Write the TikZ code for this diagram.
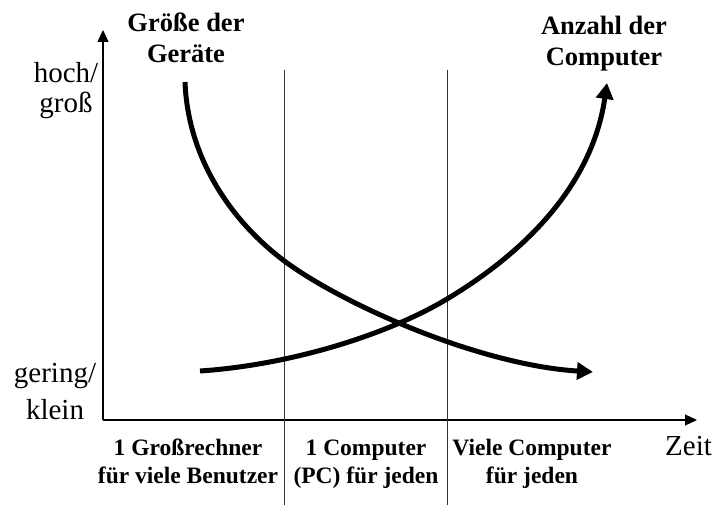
\documentclass[tikz,border=0pt]{standalone}
\usepackage{fontspec}
\setmainfont{Liberation Serif}
\usetikzlibrary{arrows.meta}
\begin{document}
\begin{tikzpicture}[x=1pt, y=-1pt,
  axis/.style={line width=1.2pt, -{Triangle[length=12pt, width=11pt]}},
  sep/.style={line width=0.9pt, black!80},
  curve/.style={line width=5pt, -{Triangle[length=16pt, width=17pt]}},
  big/.style={font=\fontsize{29}{30}\selectfont, inner sep=0pt, align=center},
  head/.style={font=\bfseries\fontsize{26.5}{31}\selectfont, inner sep=0pt, align=center},
  era/.style={font=\bfseries\fontsize{23.5}{28}\selectfont, inner sep=0pt, align=center}]
  \useasboundingbox (0,0) rectangle (717,505);
  % axes
  \coordinate (O) at (103,420);
  \coordinate (ytop) at (103,30);
  \coordinate (xend) at (697,420);
  \draw[axis] (O) -- (ytop);
  \draw[axis] (O) -- (xend);
  % era separators
  \coordinate (s1t) at (284,70); \coordinate (s1b) at (284,505);
  \coordinate (s2t) at (447,70); \coordinate (s2b) at (447,505);
  \draw[sep] (s1t) -- (s1b);
  \draw[sep] (s2t) -- (s2b);
  % curves
  \coordinate (size0) at (185,82);  \coordinate (size1) at (593,372);
  \coordinate (count0) at (200,371); \coordinate (count1) at (607,83);
  \draw[curve] (size0) .. controls (188,160) and (233,222) .. (283,260)
    .. controls (343,305) and (480,365) .. (size1);
  \draw[curve] (count0) .. controls (290,365) and (387,335) .. (447,299)
    .. controls (502,266) and (590,200) .. (count1);
  % labels
  \node[big, anchor=base] (high) at (66,113) {hoch/\\groß};
  \node[big, anchor=base, font=\fontsize{29}{37}\selectfont] (low) at (55,419) {gering/\\klein};
  \node[big, anchor=base west] (time) at (665,455) {Zeit};
  \node[head, anchor=base] (size) at (186,63) {Größe der\\Geräte};
  \node[head, anchor=base] (count) at (604,66) {Anzahl der\\Computer};
  \node[era, anchor=base] (era1) at (188,483) {1 Großrechner\\für viele Benutzer};
  \node[era, anchor=base] (era2) at (366,483) {1 Computer\\(PC) für jeden};
  \node[era, anchor=base] (era3) at (532,483) {Viele Computer\\für jeden};
\end{tikzpicture}
\end{document}
